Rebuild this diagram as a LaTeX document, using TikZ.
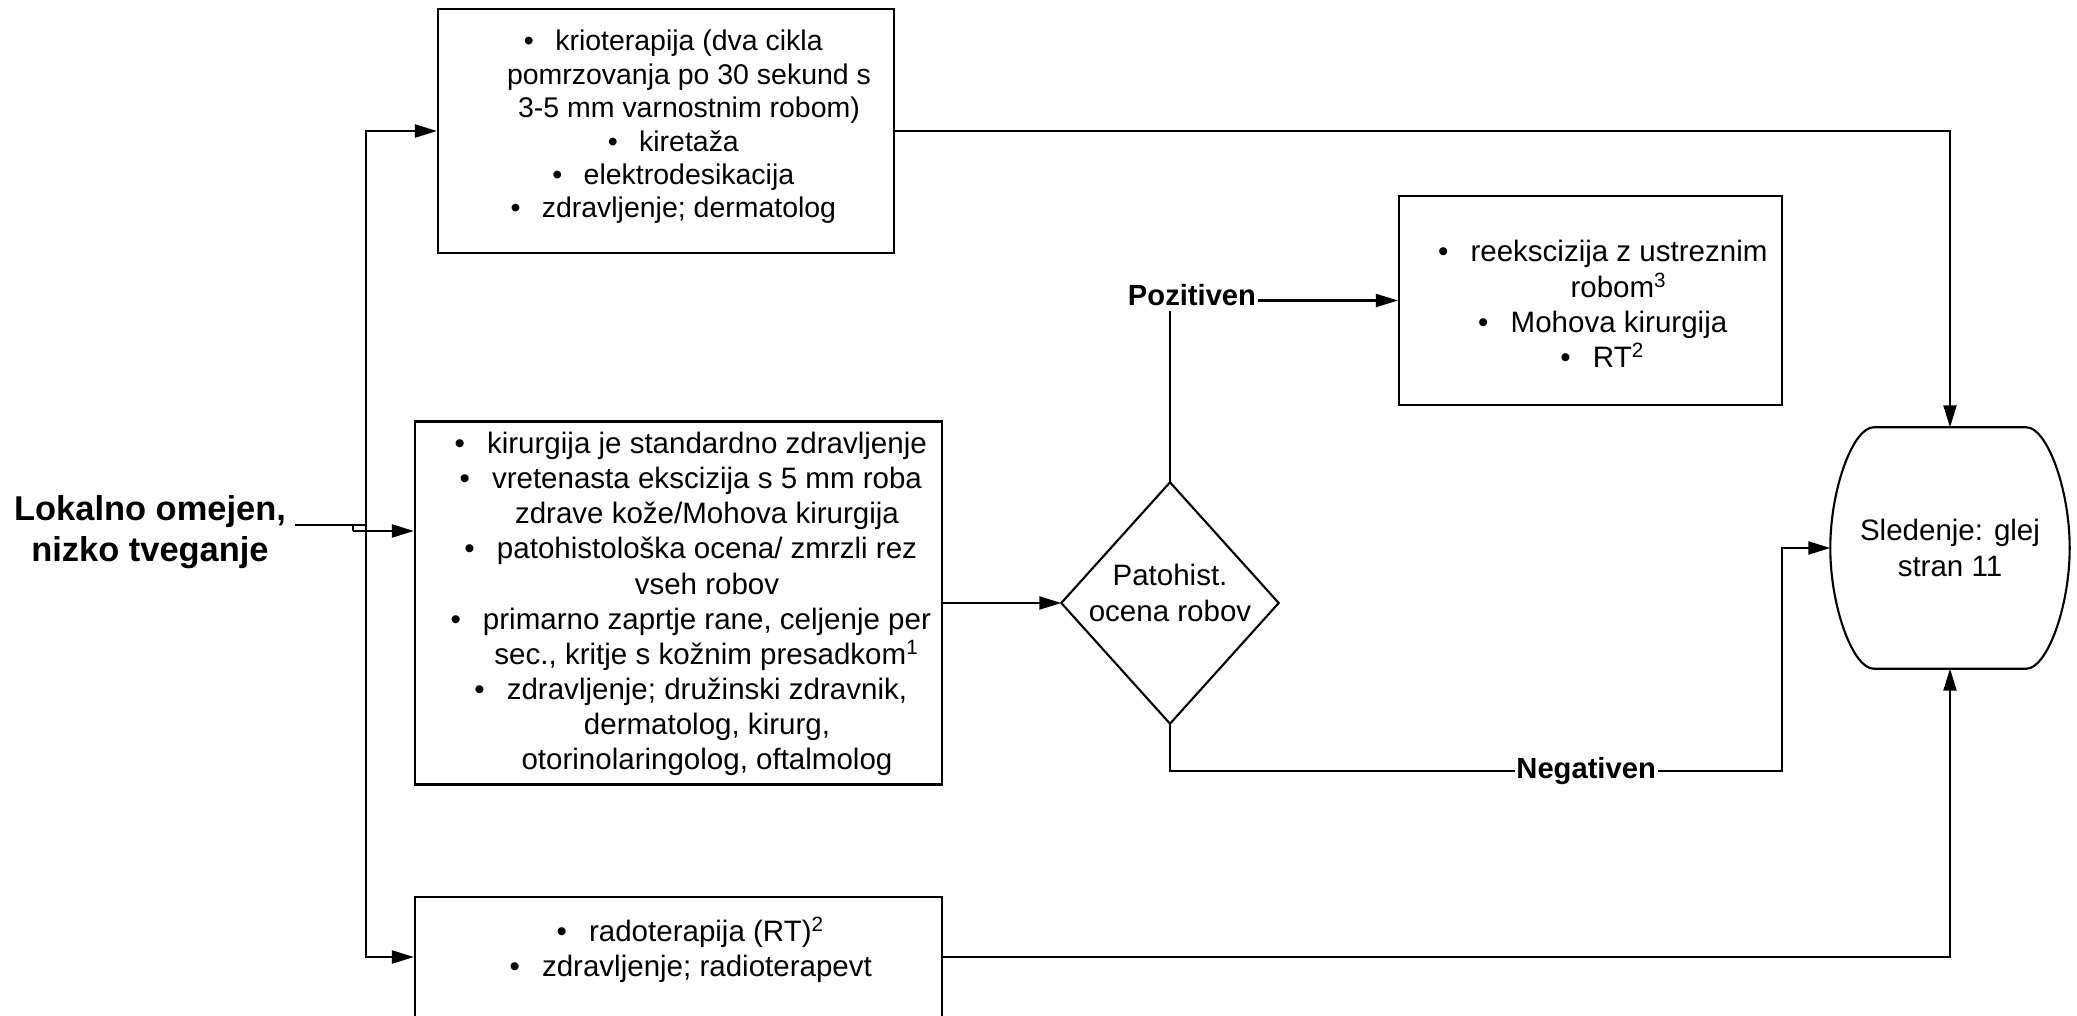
\documentclass[tikz,border=0pt]{standalone}
\usepackage{fontspec}
\setmainfont{Liberation Sans}
\usetikzlibrary{arrows.meta}
\newcommand{\itm}{\llap{\textbullet\hspace{0.75em}}}

\begin{document}
\begin{tikzpicture}[
  box/.style={draw, line width=0.6pt, inner sep=0pt},
  txt/.style={align=center, inner sep=0pt, font=\fontsize{8.4}{10}\selectfont},
  arr/.style={line width=0.6pt, -{Triangle[length=0.22cm,width=0.13cm]}},
  lab/.style={fill=white, inner xsep=0.5pt, inner ysep=1.5pt, font=\bfseries\fontsize{8.3}{10}\selectfont}]
  \useasboundingbox (0,0) rectangle (20.77,10.15);

  \node[font=\bfseries\fontsize{9.8}{11.6}\selectfont, align=center, inner sep=0.08cm] (lbl) at (1.50,4.83) {Lokalno omejen,\\nizko tveganje};

  \node[box, minimum width=4.56cm, minimum height=2.44cm] (krio) at (6.66,8.84) {};
  \node[txt, font=\fontsize{8.1}{9.5}\selectfont] (kriotxt) at (6.89,8.88) {\itm krioterapija (dva cikla\\pomrzovanja po 30 sekund s\\3-5 mm varnostnim robom)\\\itm kiretaža\\\itm elektrodesikacija\\\itm zdravljenje; dermatolog};

  \node[box, minimum width=5.27cm, minimum height=3.63cm] (exc) at (6.785,4.12) {};
  \node[txt] (exctxt) at (7.07,4.11) {\itm kirurgija je standardno zdravljenje\\\itm vretenasta ekscizija s 5 mm roba\\zdrave kože/Mohova kirurgija\\\itm patohistološka ocena/ zmrzli rez\\vseh robov\\\itm primarno zaprtje rane, celjenje per\\sec., kritje s kožnim presadkom\textsuperscript{1}\\\itm zdravljenje; družinski zdravnik,\\dermatolog, kirurg,\\otorinolaringolog, oftalmolog};

  \node[box, minimum width=5.27cm, minimum height=1.20cm] (radio) at (6.785,0.58) {};
  \node[txt] (radiotxt) at (7.07,0.65) {\itm radoterapija (RT)\textsuperscript{2}\\\itm zdravljenje; radioterapevt};

  \node[box, minimum width=3.83cm, minimum height=2.09cm] (reex) at (15.905,7.145) {};
  \node[txt] (reextxt) at (16.19,7.11) {\itm reekscizija z ustreznim\\robom\textsuperscript{3}\\\itm Mohova kirurgija\\\itm RT\textsuperscript{2}};

  \node[txt, minimum width=2.16cm, minimum height=2.40cm] (pato) at (11.70,4.12) {};
  \node[txt] (patotxt) at (11.70,4.22) {Patohist.\\ocena robov};
  \draw[line width=0.6pt] (pato.north) -- (pato.east) -- (pato.south) -- (pato.west) -- cycle;

  \node[txt, minimum width=2.38cm, minimum height=2.40cm] (sled) at (19.50,4.67) {Sledenje: glej\\stran 11};
  \draw[line width=0.6pt] ([xshift=-0.765cm]sled.north) -- ([xshift=0.765cm]sled.north)
    .. controls +(0.2,0) and +(0,0.6) .. (sled.east)
    .. controls +(0,-0.6) and +(0.2,0) .. ([xshift=0.765cm]sled.south)
    -- ([xshift=-0.765cm]sled.south)
    .. controls +(-0.2,0) and +(0,-0.6) .. (sled.west)
    .. controls +(0,0.6) and +(-0.2,0) .. ([xshift=-0.765cm]sled.north);

  \coordinate (split) at (3.66,4.90);
  \coordinate (jog) at (3.53,4.90);
  \coordinate (jog2) at (3.53,4.84);
  \coordinate (turn) at (17.82,2.44);

  \draw[line width=0.6pt] (lbl.east |- split) -- (split);
  \draw[arr] (split) |- (krio.west);
  \draw[arr] (split) |- (radio.west);
  \draw[line width=0.6pt] (jog) -- (jog2);
  \draw[arr] (jog2) -- (jog2 -| exc.west);
  \draw[arr] (exc.east) -- (pato.west);
  \draw[arr] (krio.east) -| (sled.north);
  \draw[arr] (radio.east) -| (sled.south);
  \draw[arr] (pato.north) |- (reex.west) node[pos=0.5, lab, xshift=0.22cm, yshift=0.05cm] {Pozitiven};
  \draw[arr] (pato.south) |- (turn) node[pos=0.84, lab] {Negativen} |- (sled.west);
\end{tikzpicture}
\end{document}
